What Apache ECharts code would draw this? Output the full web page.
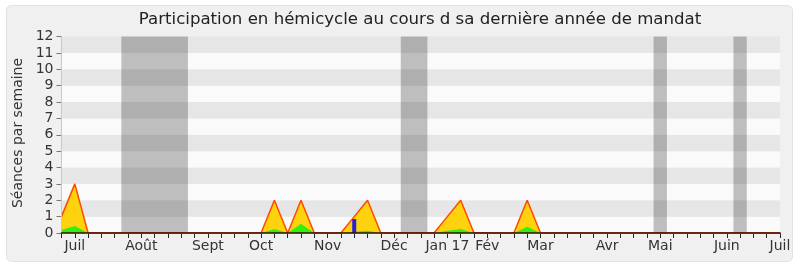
<!DOCTYPE html>
<html>
<head>
<meta charset="utf-8">
<script src="https://cdn.jsdelivr.net/npm/echarts@6/dist/echarts.min.js"></script>
<style>html,body{margin:0;padding:0;background:#fff;}#c{width:800px;height:267px;}</style>
</head>
<body>
<div id="c"></div>
<script>
// Week indices 0..54 (weekly ticks from end of June 2016 to July 2017)
const weeks = Array.from({length: 55}, (_, i) => i);
// Month labels placed at week indices
const monthWeeks = [1, 6, 11, 15, 20, 25, 29, 32, 36, 41, 45, 50, 54];
const monthNames = ['Juil', 'Août', 'Sept', 'Oct', 'Nov', 'Déc', 'Jan 17', 'Fév', 'Mar', 'Avr', 'Mai', 'Juin', 'Juil'];
// Séances par semaine (yellow), interventions (green), blue bar
const presence = [1,3,0,0,0,0,0,0,0,0, 0,0,0,0,0,0,2,0,2,0, 0,0,1,2,0,0,0,0,0,1, 2,0,0,0,0,2,0,0,0,0, 0,0,0,0,0,0,0,0,0,0, 0,0,0,0,0];
const participation = [0.18,0.43,0,0,0,0,0,0,0,0, 0,0,0,0,0,0,0.24,0,0.57,0, 0,0,0.08,0.13,0,0,0,0,0,0.14, 0.24,0,0,0,0,0.38,0,0,0,0, 0,0,0,0,0,0,0,0,0,0, 0,0,0,0,0];
const blueWeeks = [22];
const blueValues = [0.85];
// Vacation periods (week ranges)
const vacations = [[4.5, 9.5], [25.5, 27.5], [44.5, 45.5], [50.5, 51.5]];
const yTicks = [0,1,2,3,4,5,6,7,8,9,10,11,12];

const chart = echarts.init(document.getElementById('c'), null, {renderer: 'canvas'});
const FONT = 'DejaVu Sans';
const labelMap = {};
monthWeeks.forEach((w, i) => labelMap[w] = monthNames[i]);

chart.setOption({
  animation: false,
  backgroundColor: '#ffffff',
  textStyle: {fontFamily: FONT},
  graphic: [
    {type: 'rect', z: -10, silent: true, shape: {x: 6.5, y: 5.5, width: 786, height: 256, r: 5},
     style: {fill: '#f0f0f0', stroke: '#e2e2e2', lineWidth: 1}},
    {type: 'text', z: 10, x: 420, y: 20, style: {text: 'Participation en hémicycle au cours d sa dernière année de mandat',
      font: '16.6px "DejaVu Sans"', fill: '#222', textAlign: 'center', textVerticalAlign: 'middle'}},
    {type: 'text', z: 10, x: 18, y: 133, rotation: Math.PI / 2, style: {text: 'Séances par semaine',
      font: '14px "DejaVu Sans"', fill: '#333', textAlign: 'center', textVerticalAlign: 'middle'}}
  ],
  grid: {left: 61.5, right: 20, top: 36.5, bottom: 34, containLabel: false},
  xAxis: [
    {type: 'value', min: 0, max: 54, interval: 1, position: 'bottom', z: 5,
     axisLine: {show: true, lineStyle: {color: '#3a0800', width: 1.6}},
     axisTick: {show: true, length: 5, lineStyle: {color: '#222'}},
     splitLine: {show: false},
     axisLabel: {margin: 6, fontSize: 14, color: '#333', fontFamily: FONT,
       formatter: v => labelMap[v] || ''}},
    {type: 'value', min: 0, max: 54, interval: 1, position: 'top', z: 5,
     axisLine: {show: false},
     axisTick: {show: true, inside: true, length: 2, lineStyle: {color: '#333'}},
     splitLine: {show: false}, axisLabel: {show: false}}
  ],
  yAxis: [
    {type: 'value', min: 0, max: 12, interval: 1,
     axisLine: {show: true, lineStyle: {color: '#111'}},
     axisTick: {show: true, length: 5, lineStyle: {color: '#777'}},
     splitLine: {show: false},
     splitArea: {show: true, areaStyle: {color: ['#fafafa', '#e6e6e6']}},
     axisLabel: {margin: 8, fontSize: 14, color: '#333', fontFamily: FONT,
       formatter: v => yTicks.includes(v) ? String(v) : ''}},
    {type: 'value', min: 0, max: 12, interval: 1, position: 'right', z: 5,
     axisLine: {show: true, lineStyle: {color: '#c8c8c8'}},
     axisTick: {show: false}, axisLabel: {show: false}, splitLine: {show: false}}
  ],
  series: [
    {type: 'line', name: 'vacances', data: [], z: 1,
     markArea: {silent: true, itemStyle: {color: 'rgba(0,0,0,0.24)'},
       data: vacations.map(v => [{xAxis: v[0]}, {xAxis: v[1]}])}},
    {type: 'line', name: 'présence', symbol: 'none', z: 2,
     data: weeks.map(i => [i, presence[i]]),
     lineStyle: {color: '#ff4a00', width: 1.5},
     areaStyle: {color: '#ffd20f', opacity: 1}},
    {type: 'line', name: 'participation', symbol: 'none', z: 3,
     data: weeks.map(i => [i, participation[i]]),
     lineStyle: {width: 0, opacity: 0},
     areaStyle: {color: '#33ee11', opacity: 1}},
    {type: 'bar', name: 'questions', z: 4, barWidth: 4,
     data: blueWeeks.map((w, i) => [w, blueValues[i]]),
     itemStyle: {color: '#2222dd'}}
  ]
});
</script>
</body>
</html>
